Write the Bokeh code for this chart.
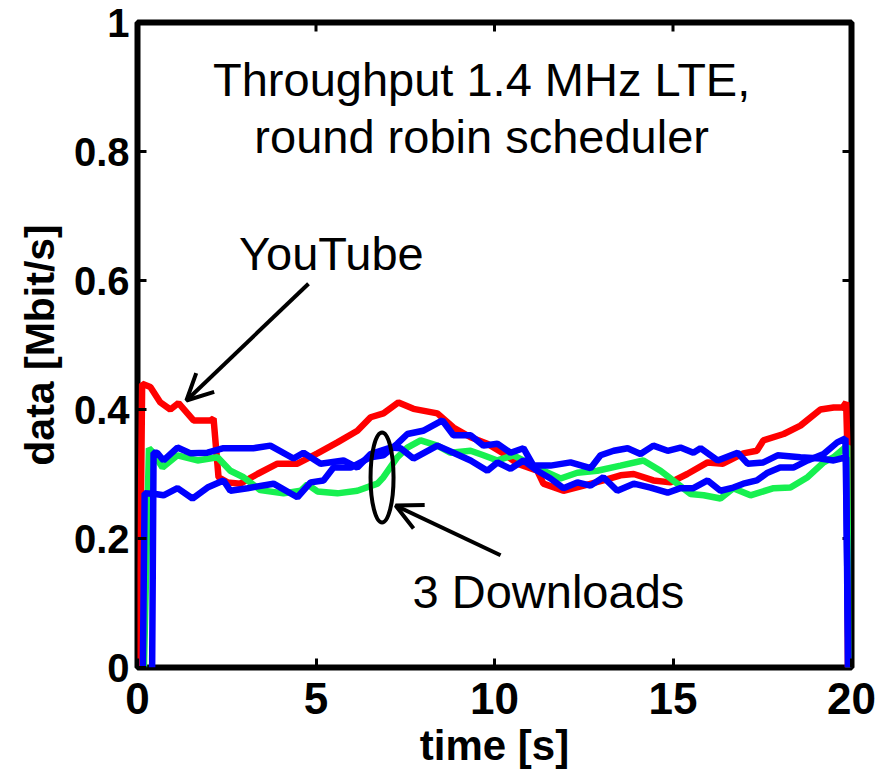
from bokeh.plotting import figure
from bokeh.models import Range1d, FixedTicker, Arrow, OpenHead, Label
from bokeh.embed import file_html
from bokeh.resources import INLINE

# ---------------- data ----------------
x_ticks = [0, 5, 10, 15, 20]
x_tick_labels = ["0", "5", "10", "15", "20"]
y_ticks = [0, 0.2, 0.4, 0.6, 0.8, 1.0]
y_tick_labels = ["0", "0.2", "0.4", "0.6", "0.8", "1"]

# YouTube (red)
t_red = [0.05, 0.13, 0.36, 0.64, 0.92, 1.15, 1.57, 2.04, 2.13, 2.27, 2.52, 2.88,
         3.36, 3.92, 4.48, 5.04, 5.6, 6.16, 6.53, 6.89, 7.31, 7.73, 8.4, 8.85,
         9.33, 9.8, 10.25, 10.64, 11.2, 11.37, 11.93, 12.5, 13.05, 13.53, 13.9,
         14.45, 14.93, 15.4, 15.97, 16.4, 16.97, 17.35, 17.53, 18.1, 18.57,
         19.13, 19.5, 19.75, 19.85, 19.88, 19.9]
v_red = [0.0, 0.44, 0.435, 0.411, 0.40, 0.41, 0.383, 0.383, 0.386, 0.295, 0.287, 0.285,
         0.30, 0.316, 0.316, 0.332, 0.349, 0.367, 0.388, 0.394, 0.411, 0.401, 0.394, 0.372,
         0.357, 0.347, 0.332, 0.316, 0.305, 0.285, 0.274, 0.282, 0.29, 0.298, 0.30,
         0.29, 0.287, 0.30, 0.318, 0.316, 0.332, 0.336, 0.352, 0.362, 0.375,
         0.40, 0.403, 0.403, 0.411, 0.35, 0.0]

# Download 1 (green)
t_green = [0.18, 0.32, 0.41, 0.7, 1.12, 1.68, 2.24, 2.6, 2.97, 3.44, 4.09, 4.57, 4.76,
           5.04, 5.6, 6.16, 6.72, 6.89, 7.28, 7.56, 7.93, 8.4, 8.76, 9.33, 9.69,
           10.08, 10.53, 10.92, 11.37, 11.85, 12.32, 12.88, 13.53, 14.17, 14.65,
           15.12, 15.49, 15.86, 16.33, 16.69, 17.17, 17.82, 18.29, 18.77, 19.22,
           19.5, 19.88, 19.92]
v_green = [0.0, 0.34, 0.335, 0.31, 0.329, 0.321, 0.326, 0.305, 0.295, 0.275, 0.27, 0.274, 0.284,
           0.273, 0.27, 0.274, 0.285, 0.295, 0.326, 0.341, 0.352, 0.344, 0.333, 0.336, 0.329,
           0.321, 0.329, 0.318, 0.305, 0.293, 0.302, 0.305, 0.313, 0.321, 0.305,
           0.285, 0.269, 0.267, 0.262, 0.278, 0.267, 0.278, 0.279, 0.295, 0.318,
           0.326, 0.344, 0.0]

# Download 2 (blue, upper at start)
t_blue1 = [0.41, 0.45, 0.55, 0.73, 1.12, 1.49, 1.96, 2.41, 3.25, 3.72, 4.37, 4.65,
           5.13, 5.77, 6.16, 6.53, 7.09, 7.37, 7.73, 8.4, 8.85, 9.33, 9.8, 10.08,
           10.45, 10.81, 11.2, 11.57, 11.93, 12.32, 12.69, 13.05, 13.44, 13.9, 14.37,
           14.85, 15.21, 15.57, 15.97, 16.33, 16.69, 16.97, 17.35, 17.65, 18.0,
           18.37, 18.77, 19.22, 19.6, 19.83, 19.92]
v_blue1 = [0.0, 0.333, 0.333, 0.321, 0.341, 0.332, 0.333, 0.34, 0.34, 0.344, 0.324, 0.333,
           0.316, 0.321, 0.31, 0.331, 0.341, 0.34, 0.324, 0.344, 0.333, 0.321, 0.305, 0.318,
           0.308, 0.321, 0.305, 0.293, 0.278, 0.287, 0.282, 0.295, 0.274, 0.285, 0.279,
           0.271, 0.278, 0.278, 0.29, 0.274, 0.279, 0.285, 0.29, 0.302, 0.31,
           0.31, 0.321, 0.331, 0.349, 0.355, 0.0]

# Download 3 (blue, lower at start)
t_blue2 = [0.15, 0.2, 0.5, 0.73, 1.12, 1.54, 1.96, 2.41, 2.6, 3.08, 3.81, 4.48, 4.85,
           5.21, 5.49, 5.97, 6.53, 6.89, 7.28, 7.56, 8.0, 8.54, 8.85, 9.33, 9.69,
           10.08, 10.45, 10.81, 11.09, 11.57, 12.13, 12.69, 12.97, 13.34, 13.73,
           14.09, 14.45, 14.85, 15.21, 15.57, 15.77, 16.25, 16.81, 17.09, 17.53,
           17.93, 18.57, 19.13, 19.5, 19.85, 19.9]
v_blue2 = [0.0, 0.27, 0.269, 0.267, 0.278, 0.262, 0.279, 0.29, 0.274, 0.278, 0.285, 0.264, 0.287,
           0.29, 0.31, 0.31, 0.326, 0.329, 0.347, 0.362, 0.367, 0.383, 0.36, 0.36, 0.344,
           0.347, 0.333, 0.34, 0.313, 0.313, 0.318, 0.309, 0.329, 0.336, 0.34,
           0.331, 0.344, 0.336, 0.341, 0.333, 0.34, 0.321, 0.333, 0.316, 0.318,
           0.329, 0.326, 0.324, 0.321, 0.326, 0.0]

title_lines = ["Throughput 1.4 MHz LTE,", "round robin scheduler"]
youtube_text = "YouTube"
downloads_text = "3 Downloads"

# ---------------- figure ----------------
FONT = "Liberation Sans"
X0, X1, Y0, Y1 = 0, 20, 0, 1

p = figure(width=877, height=773, output_backend="svg", toolbar_location=None,
           x_range=Range1d(X0, X1), y_range=Range1d(Y0, Y1),
           min_border_left=137, min_border_right=26, min_border_top=22,
           min_border_bottom=106)
p.background_fill_color = "white"
p.border_fill_color = "white"
p.outline_line_color = "black"
p.outline_line_width = 6
p.xgrid.visible = False
p.ygrid.visible = False

for ax, ticks, labels in ((p.xaxis[0], x_ticks, x_tick_labels), (p.yaxis[0], y_ticks, y_tick_labels)):
    ax.ticker = FixedTicker(ticks=ticks)
    ax.major_label_overrides = {t: l for t, l in zip(ticks, labels)}
    ax.axis_line_color = None
    ax.major_tick_in = 9
    ax.major_tick_out = 0
    ax.major_tick_line_width = 3
    ax.minor_tick_line_color = None
    ax.major_label_text_font = FONT
    ax.major_label_text_font_style = "bold"
    ax.major_label_text_color = "black"
    ax.axis_label_text_font = FONT
    ax.axis_label_text_font_style = "bold"
    ax.axis_label_text_color = "black"

p.xaxis.axis_label = "time [s]"
p.yaxis.axis_label = "data [Mbit/s]"
p.xaxis.major_label_text_font_size = "44px"
p.yaxis.major_label_text_font_size = "40px"
p.xaxis.axis_label_text_font_size = "42px"
p.yaxis.axis_label_text_font_size = "41px"
p.xaxis.major_label_standoff = 15
p.yaxis.major_label_standoff = 8
p.xaxis.axis_label_standoff = 5
p.yaxis.axis_label_standoff = 8

# inward ticks on the right and top edges of the box (computed from the tick lists)
tick_dx = 9 / 35.7 * (X1 - X0) / 20
tick_dy = 9 / 645 * (Y1 - Y0)
p.segment(x0=[X1] * len(y_ticks), y0=y_ticks, x1=[X1 - tick_dx] * len(y_ticks), y1=y_ticks,
          line_color="black", line_width=3)
p.segment(x0=x_ticks, y0=[Y1] * len(x_ticks), x1=x_ticks, y1=[Y1 - tick_dy] * len(x_ticks),
          line_color="black", line_width=3)

# ---------------- series ----------------
LW = 6.5
p.line(t_red, v_red, line_color="#ff0000", line_width=LW)
p.line(t_green, v_green, line_color="#17f050", line_width=LW)
p.line(t_blue1, v_blue1, line_color="#0000ff", line_width=LW)
p.line(t_blue2, v_blue2, line_color="#0000ff", line_width=LW)

# ---------------- annotations ----------------
def add_text(x, y, s):
    p.add_layout(Label(x=x, y=y, text=s, text_align="center",
                       text_baseline="alphabetic", text_font=FONT, text_font_size="47px",
                       text_color="black"))

add_text(9.64, 0.912, title_lines[0])
add_text(9.64, 0.824, title_lines[1])
add_text(5.43, 0.642, youtube_text)
add_text(11.51, 0.118, downloads_text)

p.add_layout(Arrow(x_start=4.79, y_start=0.595, x_end=1.37, y_end=0.414,
                   line_width=4, line_color="black",
                   end=OpenHead(size=26, line_width=4, line_color="black")))
p.add_layout(Arrow(x_start=10.17, y_start=0.174, x_end=7.23, y_end=0.251,
                   line_width=4, line_color="black",
                   end=OpenHead(size=26, line_width=4, line_color="black")))
p.ellipse(x=[6.85], y=[0.2946], width=[0.644], height=[0.1395],
          fill_color=None, line_color="black", line_width=4)

open("out.html", "w").write(file_html(p, INLINE))
